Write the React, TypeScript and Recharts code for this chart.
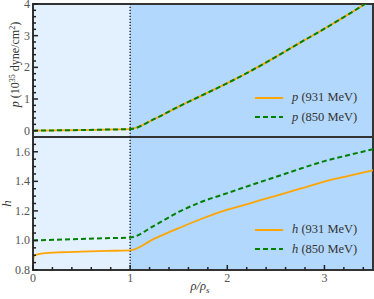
import React from "react";
import {
  CartesianGrid,
  Legend,
  Line,
  LineChart,
  ReferenceArea,
  ReferenceLine,
  XAxis,
  YAxis,
} from "recharts";

// density in units of saturation density
const rhoP = [0, 0.25, 0.5, 0.75, 1, 1.25, 1.5, 1.75, 2, 2.25, 2.5, 2.75, 3, 3.25, 3.5];
const p931 = [0, 0.01, 0.02, 0.035, 0.05, 0.37, 0.76, 1.13, 1.5, 1.9, 2.33, 2.78, 3.22, 3.68, 4.16];
const p850 = [0, 0.01, 0.02, 0.035, 0.05, 0.37, 0.76, 1.13, 1.5, 1.9, 2.33, 2.78, 3.22, 3.68, 4.16];

const rhoH931 = [0, 0.004, 0.02, 0.1, 0.3, 0.5, 0.75, 1, 1.25, 1.5, 1.75, 2, 2.25, 2.5, 2.75, 3, 3.25, 3.5];
const h931 = [0.8, 0.88, 0.9, 0.913, 0.92, 0.924, 0.929, 0.933, 1.012, 1.083, 1.15, 1.208, 1.255, 1.302, 1.35, 1.398, 1.437, 1.475];
const rhoH850 = [0, 0.25, 0.5, 0.75, 1, 1.25, 1.5, 1.75, 2, 2.25, 2.5, 2.75, 3, 3.25, 3.5];
const h850 = [1.0, 1.005, 1.01, 1.015, 1.02, 1.101, 1.193, 1.265, 1.32, 1.376, 1.43, 1.485, 1.537, 1.578, 1.617];

// region boundaries (low density / high density)
const regionEdges = [0, 1];

const xTicks = [0, 0.2, 0.4, 0.6, 0.8, 1, 1.2, 1.4, 1.6, 1.8, 2, 2.2, 2.4, 2.6, 2.8, 3, 3.2, 3.4];
const xMajor = [0, 1, 2, 3];
const pTicks = [0, 0.2, 0.4, 0.6, 0.8, 1, 1.2, 1.4, 1.6, 1.8, 2, 2.2, 2.4, 2.6, 2.8, 3, 3.2, 3.4, 3.6, 3.8, 4];
const pMajor = [0, 1, 2, 3, 4];
const hTicks = [0.8, 0.85, 0.9, 0.95, 1, 1.05, 1.1, 1.15, 1.2, 1.25, 1.3, 1.35, 1.4, 1.45, 1.5, 1.55, 1.6, 1.65, 1.7];
const hMajor = [0.8, 1, 1.2, 1.4, 1.6];

const zip = (xs: number[], ys: number[]) => xs.map((x, i) => ({ x, y: ys[i] }));

const ORANGE = "#FFA500";
const GREEN = "#008000";
const FRAME = "#333";
const REGION_FILLS = ["#E3F0FD", "#B3D8FD"];
const serif = "Liberation Serif, serif";

type Side = "bottom" | "top" | "left" | "right";
const isMajor = (v: number, majors: number[]) => majors.some((m) => Math.abs(m - v) < 1e-6);

function makeTick(side: Side, majors: number[], fmt?: (v: number) => string) {
  return (props: any) => {
    const x = Number(props.x);
    const y = Number(props.y);
    const v = Number(props.payload.value);
    const major = isMajor(v, majors);
    const len = major ? 5 : 3;
    let x2 = x;
    let y2 = y;
    if (side === "bottom") y2 = y - len;
    if (side === "top") y2 = y + len;
    if (side === "left") x2 = x + len;
    if (side === "right") x2 = x - len;
    let label = null;
    if (fmt && major) {
      label =
        side === "bottom" ? (
          <text x={x} y={y + 12} textAnchor="middle" fill="#555" fontSize={12} style={{ fontFamily: serif }}>
            {fmt(v)}
          </text>
        ) : (
          <text x={x - 3} y={y + 4} textAnchor="end" fill="#555" fontSize={12} style={{ fontFamily: serif }}>
            {fmt(v)}
          </text>
        );
    }
    return (
      <g>
        <line x1={x} y1={y} x2={x2} y2={y2} stroke="#222" strokeWidth={1.5} />
        {label}
      </g>
    );
  };
}

const PLabel = ({ viewBox }: any) => {
  const cy = viewBox.y + viewBox.height / 2 - 6;
  return (
    <text
      transform={`translate(${viewBox.x + 19}, ${cy}) rotate(-90)`}
      textAnchor="middle"
      fill="#333"
      fontSize={12}
      style={{ fontFamily: serif }}
    >
      <tspan fontStyle="italic">p</tspan>
      <tspan> (10</tspan>
      <tspan dy={-4} fontSize={8}>35</tspan>
      <tspan dy={4}> dyne/cm</tspan>
      <tspan dy={-4} fontSize={8}>2</tspan>
      <tspan dy={4}>)</tspan>
    </text>
  );
};

const HLabel = ({ viewBox }: any) => {
  const cy = viewBox.y + viewBox.height / 2;
  return (
    <text
      transform={`translate(${viewBox.x + 11}, ${cy}) rotate(-90)`}
      textAnchor="middle"
      fill="#333"
      fontSize={13}
      fontStyle="italic"
      style={{ fontFamily: serif }}
    >
      h
    </text>
  );
};

const RhoLabel = ({ viewBox }: any) => (
  <text
    x={viewBox.x + viewBox.width / 2 - 3}
    y={viewBox.y + 20}
    textAnchor="middle"
    fill="#333"
    fontSize={12.5}
    fontStyle="italic"
    style={{ fontFamily: serif }}
  >
    ρ/ρ
    <tspan dy={3} fontSize={9}>s</tspan>
  </text>
);

const legendContent = (sym: string) => () => {
  const rows = [
    { color: ORANGE, dash: undefined, text: " (931 MeV)" },
    { color: GREEN, dash: "5 3", text: " (850 MeV)" },
  ];
  return (
    <div style={{ fontFamily: serif, fontSize: 12.5, color: "#333" }}>
      {rows.map((r) => (
        <div key={r.text} style={{ display: "flex", alignItems: "center", height: 19.5 }}>
          <svg width={30} height={6}>
            <line x1={1} y1={3} x2={29} y2={3} stroke={r.color} strokeWidth={2} strokeDasharray={r.dash} />
          </svg>
          <span style={{ marginLeft: 8, whiteSpace: "nowrap" }}>
            <i>{sym}</i>
            {r.text}
          </span>
        </div>
      ))}
    </div>
  );
};

const frameProps = {
  type: "number" as const,
  allowDataOverflow: true,
  interval: 0 as const,
  tickSize: 0,
  tickMargin: 0,
  tickLine: false,
  axisLine: { stroke: FRAME, strokeWidth: 2 },
};

type PanelProps = {
  top: number;
  height: number;
  bottomAxis: number;
  yDomain: [number, number];
  yTicks: number[];
  yMajor: number[];
  yFmt: (v: number) => string;
  yLabel: (props: any) => React.ReactNode;
  xLabels: boolean;
  series: { data: { x: number; y: number }[]; name: string; color: string; dash?: string }[];
  sym: string;
  legendTop: number;
};

function Panel(p: PanelProps) {
  const fmtInt = (v: number) => String(Math.round(v));
  const margin = { top: p.top === 0 ? 4 : 0, right: 1, bottom: 0, left: 0 };
  return (
    <div style={{ position: "absolute", left: 0, top: p.top, width: 374, height: p.height }}>
      {/* shaded density regions, drawn underneath */}
      <div style={{ position: "absolute", left: 0, top: 0 }}>
        <LineChart width={374} height={p.height} margin={{ ...margin, left: 33, bottom: p.bottomAxis }}>
          <CartesianGrid horizontal={false} stroke="none" verticalValues={regionEdges} verticalFill={REGION_FILLS} fillOpacity={1} />
          <XAxis type="number" dataKey="x" domain={[0, 3.5]} allowDataOverflow hide />
          <YAxis type="number" domain={p.yDomain} allowDataOverflow hide />
        </LineChart>
      </div>
      <div style={{ position: "absolute", left: 0, top: 0 }}>
        <LineChart width={374} height={p.height} margin={margin}>
          <ReferenceLine x={1} stroke="#222" strokeWidth={1.4} strokeDasharray="1.3 1.7" />
          {p.series.map((s) => (
            <Line
              key={s.name}
              data={s.data}
              dataKey="y"
              name={s.name}
              type="monotone"
              stroke={s.color}
              strokeWidth={s.dash ? 2 : 1.8}
              strokeDasharray={s.dash}
              dot={false}
              isAnimationActive={false}
            />
          ))}
          <ReferenceArea
            x1={0}
            x2={3.5}
            y1={p.yDomain[0]}
            y2={p.yDomain[1]}
            fill="none"
            stroke={FRAME}
            strokeWidth={2}
            ifOverflow="visible"
          />
          <XAxis
            {...frameProps}
            dataKey="x"
            domain={[0, 3.5]}
            ticks={xTicks}
            height={p.bottomAxis}
            tick={makeTick("bottom", xMajor, p.xLabels ? fmtInt : undefined)}
            label={p.xLabels ? (props: any) => <RhoLabel {...props} /> : undefined}
          />
          <XAxis {...frameProps} xAxisId="top" orientation="top" domain={[0, 3.5]} ticks={xTicks} height={0} tick={makeTick("top", xMajor)} />
          <YAxis {...frameProps} domain={p.yDomain} ticks={p.yTicks} width={33} tick={makeTick("left", p.yMajor, p.yFmt)} label={p.yLabel} />
          <YAxis {...frameProps} yAxisId="right" orientation="right" domain={p.yDomain} ticks={p.yTicks} width={0} tick={makeTick("right", p.yMajor)} />
          <Legend
            layout="vertical"
            align="center"
            verticalAlign="middle"
            content={legendContent(p.sym)}
            wrapperStyle={{ left: 254, top: p.legendTop, width: 118 }}
          />
        </LineChart>
      </div>
    </div>
  );
}

export default function App() {
  return (
    <div style={{ position: "absolute", left: 0, top: 0, width: 374, height: 299, background: "#fff" }}>
      <Panel
        top={0}
        height={137}
        bottomAxis={0}
        yDomain={[-0.2, 4]}
        yTicks={pTicks}
        yMajor={pMajor}
        yFmt={(v) => String(Math.round(v))}
        yLabel={(props: any) => <PLabel {...props} />}
        xLabels={false}
        series={[
          { data: zip(rhoP, p931), name: "p (931 MeV)", color: ORANGE },
          { data: zip(rhoP, p850), name: "p (850 MeV)", color: GREEN, dash: "5 3" },
        ]}
        sym="p"
        legendTop={88}
      />
      <Panel
        top={137}
        height={162}
        bottomAxis={29}
        yDomain={[0.8, 1.7]}
        yTicks={hTicks}
        yMajor={hMajor}
        yFmt={(v) => v.toFixed(1)}
        yLabel={(props: any) => <HLabel {...props} />}
        xLabels
        series={[
          { data: zip(rhoH931, h931), name: "h (931 MeV)", color: ORANGE },
          { data: zip(rhoH850, h850), name: "h (850 MeV)", color: GREEN, dash: "5 3" },
        ]}
        sym="h"
        legendTop={83}
      />
    </div>
  );
}
